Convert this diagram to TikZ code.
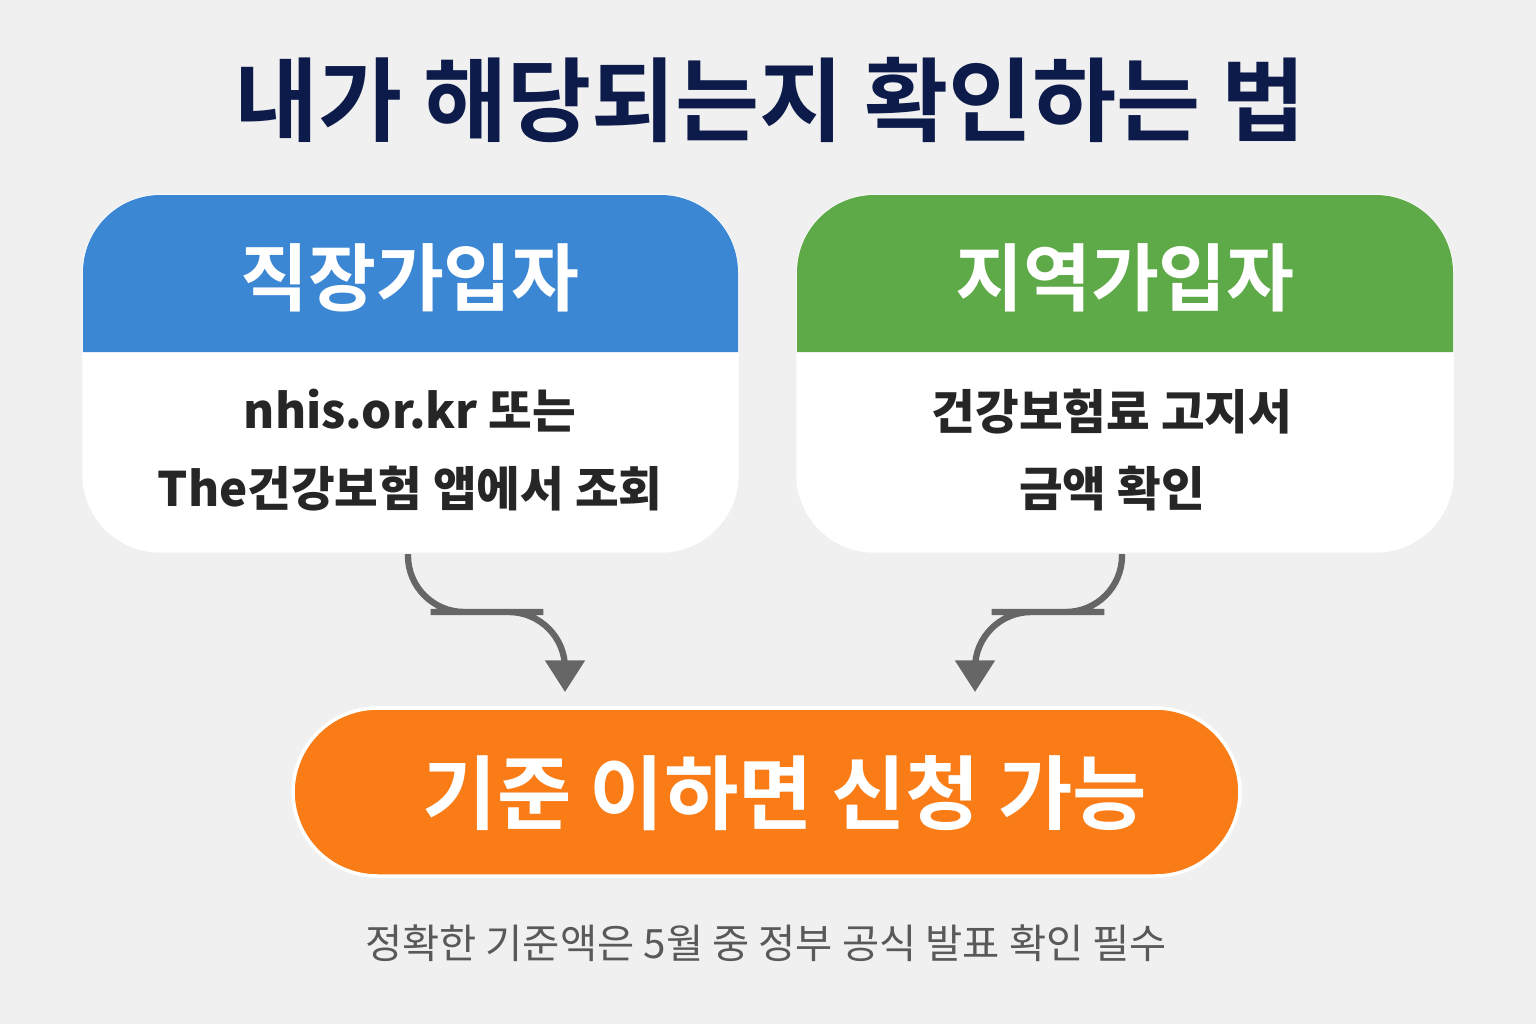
\documentclass[tikz,border=0pt]{standalone}
\usepackage{fontspec}
\setmainfont{Noto Sans CJK KR}
\newfontfamily\krbold{Noto Sans CJK KR Bold}
\usetikzlibrary{positioning,arrows.meta}
\definecolor{bgcol}{HTML}{F0F0F0}
\definecolor{navy}{HTML}{0D1B4A}
\definecolor{hblue}{HTML}{3B87D4}
\definecolor{hgreen}{HTML}{5FAA48}
\definecolor{orng}{HTML}{F97C17}
\definecolor{arrgray}{HTML}{666666}
\tikzset{
  card/.style={fill=white, draw=white, rounded corners=22},
  head/.style={font=\krbold\fontsize{21}{24}\selectfont, text=white},
  body/.style={font=\fontsize{13.5}{22}\selectfont\bfseries, align=center, text=black!85},
  flow/.style={draw=arrgray, line width=1.8pt, rounded corners=16, -{Triangle[width=11pt,length=9pt]}}
}
\begin{document}
\begin{tikzpicture}[x=0.01cm, y=-0.01cm]
  \fill[bgcol] (0,0) rectangle (1536,1024);
  \useasboundingbox (0,0) rectangle (1536,1024);
  % title
  \node[font=\krbold\fontsize{26}{30}\selectfont, text=navy] (title) at (770,100) {내가 해당되는지 확인하는 법};
  % left card
  \fill[card] (83,195) rectangle (738,552);
  \fill[hblue] (83,352) {[rounded corners=22] -- (83,195) -- (738,195)} -- (738,352) -- cycle;
  \node[head] (lhead) at (410,278) {직장가입자};
  \node[body] (lbody) at (410,450) {nhis.or.kr 또는\\The건강보험 앱에서 조회};
  % right card
  \fill[card] (797,195) rectangle (1453,552);
  \fill[hgreen] (797,352) {[rounded corners=22] -- (797,195) -- (1453,195)} -- (1453,352) -- cycle;
  \node[head] (rhead) at (1125,278) {지역가입자};
  \node[body] (rbody) at (1112,450) {건강보험료 고지서\\금액 확인};
  % result
  \fill[orng, draw=white, line width=1pt, rounded corners=24] (293,708) rectangle (1240,876);
  \node[head, font=\krbold\fontsize{23}{26}\selectfont] (result) at (785,793) {기준 이하면 신청 가능};
  % connectors
  \coordinate (lout) at (408,554);
  \coordinate (lin) at (565,692);
  \coordinate (rout) at (1122,554);
  \coordinate (rin) at (975,692);
  \draw[flow] (lout) |- (487,612) -| (lin);
  \draw[flow] (rout) |- (1048,612) -| (rin);
  % note
  \node[font=\fontsize{11.5}{14}\selectfont, text=black!65] (note) at (766,943) {정확한 기준액은 5월 중 정부 공식 발표 확인 필수};
\end{tikzpicture}
\end{document}
